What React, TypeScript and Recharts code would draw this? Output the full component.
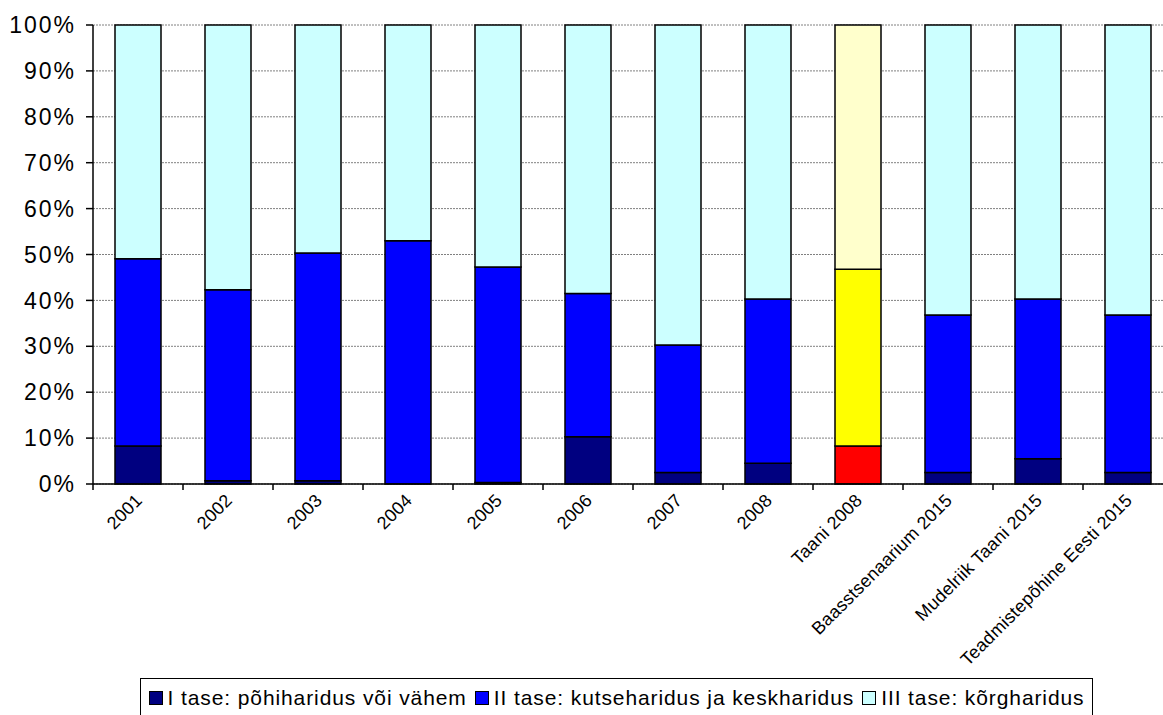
import { Bar, BarChart, CartesianGrid, Cell, Legend, XAxis, YAxis } from "recharts";

const CATEGORIES = [
  "2001",
  "2002",
  "2003",
  "2004",
  "2005",
  "2006",
  "2007",
  "2008",
  "Taani 2008",
  "Baasstsenaarium 2015",
  "Mudelriik Taani 2015",
  "Teadmistepõhine Eesti 2015",
];

const LEVEL1 = [8.3, 0.7, 0.7, 0, 0.3, 10.3, 2.5, 4.5, 8.3, 2.5, 5.5, 2.5];
const LEVEL2 = [40.8, 41.6, 49.6, 53.0, 47.0, 31.2, 27.8, 35.8, 38.5, 34.3, 34.8, 34.3];
const LEVEL3 = [50.9, 57.7, 49.7, 47.0, 52.7, 58.5, 69.7, 59.7, 53.2, 63.2, 59.7, 63.2];

const SERIES_NAMES = [
  "I tase: põhiharidus või vähem",
  "II tase: kutseharidus ja keskharidus",
  "III tase: kõrgharidus",
];
const SERIES_COLORS = ["#000080", "#0000FF", "#CCFFFF"];
const HIGHLIGHT_COLORS = ["#FF0000", "#FFFF00", "#FFFFCC"];
const HIGHLIGHT = "Taani 2008";

const Y_TICKS = [0, 10, 20, 30, 40, 50, 60, 70, 80, 90, 100];

const FONT = "'Liberation Sans', Arial, sans-serif";
const CHART_W = 1180;
const CHART_H = 715;
const PLOT_LEFT = 93;
const PLOT_RIGHT = 7;
const BAND = (CHART_W - PLOT_LEFT - PLOT_RIGHT) / CATEGORIES.length;

const data = CATEGORIES.map((name, i) => ({
  name,
  l1: LEVEL1[i],
  l2: LEVEL2[i],
  l3: LEVEL3[i],
}));

const XTick = (props: any) => {
  const { x, y, payload } = props;
  return (
    <g>
      <line x1={x - BAND / 2} x2={x - BAND / 2} y1={y} y2={y + 6} stroke="#000" strokeWidth={1.5} />
      <text
        transform={`translate(${x + 2}, ${y + 14}) rotate(-45)`}
        textAnchor="end"
        dominantBaseline="middle"
        fontSize={18}
        letterSpacing={0.3}
        fontFamily={FONT}
        fill="#000"
      >
        {payload.value}
      </text>
    </g>
  );
};

const LegendBox = () => (
  <div
    style={{
      border: "1.5px solid #000",
      boxSizing: "border-box",
      width: 953,
      height: 40,
      display: "flex",
      alignItems: "center",
      justifyContent: "center",
      fontFamily: FONT,
      fontSize: 21,
      letterSpacing: 0.9,
      color: "#000",
      background: "#fff",
      whiteSpace: "nowrap",
    }}
  >
    {SERIES_NAMES.map((n, i) => (
      <span key={n} style={{ display: "inline-flex", alignItems: "center", marginRight: i < 2 ? 8 : 0 }}>
        <span
          style={{
            display: "inline-block",
            width: 12,
            height: 12,
            background: SERIES_COLORS[i],
            border: "1.5px solid #000",
            marginRight: 5,
          }}
        />
        {n}
      </span>
    ))}
  </div>
);

const keys = ["l1", "l2", "l3"];

export default function App() {
  return (
    <div style={{ position: "absolute", left: 0, top: 0, width: 1163, height: 715, overflow: "hidden", background: "#fff" }}>
      <BarChart
        width={CHART_W}
        height={CHART_H}
        data={data}
        margin={{ top: 25, right: PLOT_RIGHT, left: 0, bottom: 0 }}
        barSize={46}
      >
        <CartesianGrid vertical={false} stroke="#808080" strokeDasharray="2 1" />
        <XAxis
          dataKey="name"
          interval={0}
          height={231}
          tickLine={false}
          tickSize={0}
          tickMargin={0}
          axisLine={{ stroke: "#000", strokeWidth: 1.5 }}
          tick={<XTick />}
        />
        <YAxis
          width={PLOT_LEFT}
          domain={[0, 100]}
          ticks={Y_TICKS}
          interval={0}
          tickFormatter={(v) => `${v}%`}
          tickSize={7}
          tickMargin={10}
          axisLine={{ stroke: "#000", strokeWidth: 1.5 }}
          tickLine={{ stroke: "#000", strokeWidth: 1.5 }}
          tick={{ fill: "#000", fontSize: 23, fontFamily: FONT, letterSpacing: 2 }}
        />
        <Legend
          layout="horizontal"
          verticalAlign="middle"
          content={<LegendBox />}
          wrapperStyle={{ position: "absolute", left: 140, top: 678, width: 953 }}
        />
        {keys.map((k, si) => (
          <Bar
            key={k}
            dataKey={k}
            name={SERIES_NAMES[si]}
            stackId="a"
            fill={SERIES_COLORS[si]}
            stroke="#000"
            strokeWidth={1.5}
            isAnimationActive={false}
          >
            {CATEGORIES.map((c) => (
              <Cell key={c} fill={c === HIGHLIGHT ? HIGHLIGHT_COLORS[si] : SERIES_COLORS[si]} />
            ))}
          </Bar>
        ))}
      </BarChart>
    </div>
  );
}
